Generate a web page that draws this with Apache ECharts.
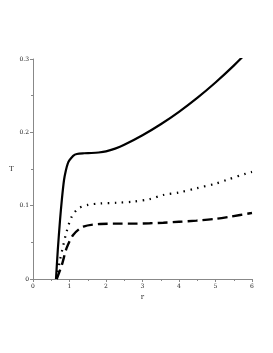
<!DOCTYPE html>
<html><head><meta charset="utf-8">
<script src="https://cdn.jsdelivr.net/npm/echarts@6/dist/echarts.min.js"></script>
<style>html,body{margin:0;padding:0;background:#fff}#c{width:273px;height:353px}</style>
</head><body><div id="c"></div>
<script>
const rSolid = [0.63,0.68,0.74,0.79,0.85,0.9,0.95,1.0,1.1,1.2,1.4,1.6,1.8,2.0,2.25,2.5,3.0,3.5,4.0,4.5,5.0,5.5,6.0];
const tSolid = [0,0.04,0.08,0.108,0.135,0.148,0.157,0.162,0.168,0.1705,0.1715,0.1718,0.1725,0.174,0.1778,0.183,0.196,0.211,0.228,0.247,0.268,0.291,0.316];
const rDot = [0.65,0.74,0.83,0.92,1.06,1.24,1.5,1.84,2.3,2.75,3.2,3.57,4.0,4.48,5.0,5.3,5.85,6.0];
const tDot = [0,0.026,0.046,0.0645,0.085,0.096,0.101,0.103,0.104,0.1055,0.109,0.1146,0.118,0.1237,0.13,0.135,0.144,0.146];
const rDash = [0.65,0.79,0.92,1.1,1.38,1.84,2.3,2.75,3.2,3.57,4.0,4.48,5.0,5.4,5.95,6.0];
const tDash = [0,0.019,0.042,0.06,0.0714,0.075,0.0755,0.0755,0.076,0.0768,0.078,0.0796,0.082,0.085,0.0896,0.090];
const xTicks = [0,1,2,3,4,5,6];
const yTicks = [0,0.1,0.2,0.3];
const xName = 'r', yName = 'T';

const pair = (a,b) => a.map((v,i)=>[v,b[i]]);
const chart = echarts.init(document.getElementById('c'));
const axisCommon = {
  axisLine:{show:true,lineStyle:{color:'#888',width:1}},
  axisTick:{show:true,length:3,lineStyle:{color:'#888'}},
  minorTick:{show:true,splitNumber:2,length:2,lineStyle:{color:'#888'}},
  splitLine:{show:false},
  axisLabel:{fontSize:6,color:'#222',fontFamily:'DejaVu Serif',margin:4}
};
chart.setOption({
  animation:false,
  grid:{left:33,top:59,right:21,bottom:74,containLabel:false},
  xAxis:Object.assign({type:'value',min:xTicks[0],max:xTicks[xTicks.length-1],interval:1,
    name:xName,nameLocation:'middle',nameGap:14,
    nameTextStyle:{fontSize:7,fontFamily:'DejaVu Serif',color:'#222'}},axisCommon),
  yAxis:Object.assign({type:'value',min:yTicks[0],max:yTicks[yTicks.length-1],interval:0.1,
    name:yName,nameLocation:'middle',nameGap:19,nameRotate:0,
    nameTextStyle:{fontSize:7,fontFamily:'DejaVu Serif',color:'#222'}},axisCommon),
  series:[
    {type:'line',data:pair(rSolid,tSolid),smooth:0.3,symbol:'none',clip:true,
      lineStyle:{color:'#000',width:2.2,type:'solid'}},
    {type:'line',data:pair(rDot,tDot),smooth:0.3,symbol:'none',clip:true,
      lineStyle:{color:'#000',width:2.2,type:[1.5,5.5],cap:'butt'}},
    {type:'line',data:pair(rDash,tDash),smooth:0.3,symbol:'none',clip:true,
      lineStyle:{color:'#000',width:2.4,type:[10,5]}}
  ]
});
</script></body></html>
